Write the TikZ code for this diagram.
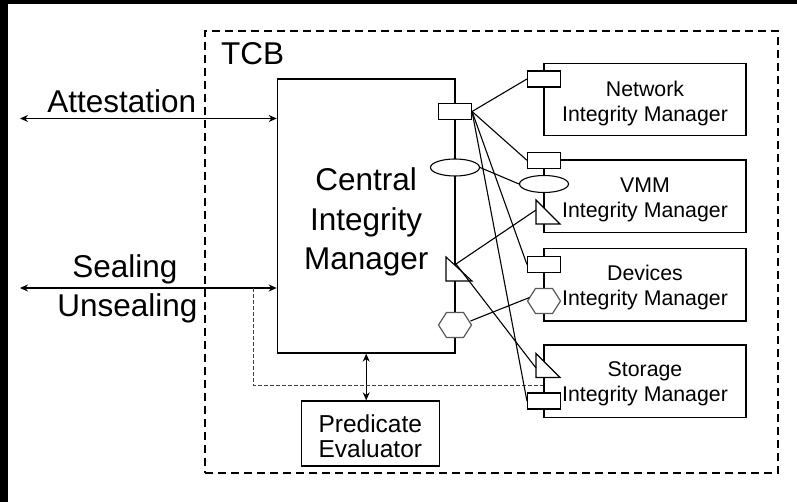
\documentclass[tikz,border=0pt]{standalone}
\usepackage{fontspec}
\setmainfont{Liberation Sans}
\usetikzlibrary{arrows.meta,shapes.geometric}

\tikzset{
  box/.style={draw, line width=1.3pt, fill=white, inner sep=0pt},
  tcbframe/.style={draw, line width=2.4pt, dash pattern=on 8pt off 5pt, inner sep=0pt},
  wire/.style={line width=1.1pt},
  duplex/.style={line width=1.1pt, {Stealth[length=8pt,width=7pt]}-{Stealth[length=8pt,width=7pt]}},
  feedback/.style={line width=0.9pt, draw=black!75, dash pattern=on 4pt off 2pt},
  portrect/.style={draw, fill=white, line width=1.1pt, rectangle, minimum width=33pt, minimum height=16pt, inner sep=0pt},
  portoval/.style={draw, fill=white, line width=1.1pt, ellipse, minimum width=49pt, minimum height=17pt, inner sep=0pt},
  porttri/.style={draw, fill=white, line width=1.1pt},
  porthex/.style={draw=black!65, fill=white, line width=1.2pt},
  bigtxt/.style={font=\fontsize{31.5}{39.5}\selectfont, inner sep=0pt, align=center},
  midtxt/.style={font=\fontsize{24.5}{25}\selectfont, inner sep=0pt, align=center},
  smalltxt/.style={font=\fontsize{21.3}{25}\selectfont, inner sep=0pt, align=center},
}

\begin{document}
\begin{tikzpicture}[x=1pt,y=-1pt]
% canvas with its dark top and left bands
\useasboundingbox (0,0) rectangle (797,502);
\fill[white] (0,0) rectangle (797,502);
\fill[black] (0,0) rectangle (797,4);
\fill[black] (0,0) rectangle (7.5,502);

% trusted computing base
\node[tcbframe, minimum width=573pt, minimum height=442pt] (tcb) at (491.5,252) {};

% managers and evaluator
\node[box, minimum width=177.7pt, minimum height=274pt] (cim) at (366.2,216) {};
\node[box, minimum width=202pt, minimum height=72.5pt] (net) at (645,99.5) {};
\node[box, minimum width=202pt, minimum height=72.5pt] (vmm) at (645,196.2) {};
\node[box, minimum width=202pt, minimum height=72.5pt] (dev) at (645,284.7) {};
\node[box, minimum width=202pt, minimum height=72.5pt] (sto) at (645,381.2) {};
\node[box, minimum width=137.6pt, minimum height=65pt] (pe) at (370.5,433.5) {};

% external interfaces
\coordinate (attEnd) at (20,118.5);
\coordinate (sealEnd) at (20,288);
\draw[duplex] (attEnd) -- (attEnd -| cim.west);
\draw[duplex] (sealEnd) -- (sealEnd -| cim.west);
\draw[duplex] (cim.south) -- (cim.south |- pe.north);

% sealing path to the storage manager
\coordinate (tap) at (253,288);
\coordinate (bend) at (253,385);
\draw[feedback] (tap) -- (bend) -- (bend -| sto.west);

% ports
\node[portrect] (cimP1) at (455,111.5) {};
\node[portoval] (cimP2) at (455,167.5) {};
\node[portrect] (netP1) at (544,79) {};
\node[portrect] (vmmP1) at (544,160.3) {};
\node[portoval] (vmmP2) at (544,184) {};
\node[portrect] (devP1) at (544,264.5) {};
\node[portrect] (stoP1) at (544,401) {};

\coordinate (cimT) at (446,257);
\coordinate (vmmT) at (536,200);
\coordinate (stoT) at (536,353.5);
\draw[porttri] (cimT) -- ++(0,24) -- ++(26,0) -- cycle;
\draw[porttri] (vmmT) -- ++(0,24) -- ++(24,0) -- cycle;
\draw[porttri] (stoT) -- ++(0,24) -- ++(24,0) -- cycle;

\coordinate (cimH) at (455,325);
\coordinate (devH) at (544,301);
\draw[porthex] (cimH) ++(-16.5,0) -- ++(8,-12.5) -- ++(17,0) -- ++(8,12.5) -- ++(-8,12.5) -- ++(-17,0) -- cycle;
\draw[porthex] (devH) ++(-16.5,0) -- ++(8,-12.5) -- ++(17,0) -- ++(8,12.5) -- ++(-8,12.5) -- ++(-17,0) -- cycle;

% port taps
\coordinate (cimTtap) at (456,264);
\coordinate (vmmTtap) at (536,210);
\coordinate (stoTtap) at (536,368);
\coordinate (cimHtap) at (470.5,321);
\coordinate (devHtap) at (529.5,297.5);

% connections between ports
\draw[wire] (cimP1.east) -- (netP1.west);
\draw[wire] (cimP1.east) -- (vmmP1.west);
\draw[wire] (cimP1.east) -- (devP1.west);
\draw[wire] (cimP1.east) -- (stoP1.west);
\draw[wire] (cimP2.east) -- (vmmP2.west);
\draw[wire] (cimTtap) -- (vmmTtap);
\draw[wire] (cimTtap) -- (stoTtap);
\draw[wire] (cimHtap) -- (devHtap);

% labels
\node[bigtxt, anchor=base west] (tcbL) at (221,65) {TCB};
\node[bigtxt, anchor=base] (attL) at (121.7,112.3) {Attestation};
\node[bigtxt, anchor=base] (sealL) at (125,277.3) {Sealing};
\node[bigtxt, anchor=base] (unsealL) at (127.5,316.7) {Unsealing};
\node[bigtxt] (cimL) at (366.2,222) {Central\\Integrity\\Manager};
\node[smalltxt] (netL) at (645,103.8) {Network\\Integrity Manager};
\node[smalltxt] (vmmL) at (645,200) {VMM\\Integrity Manager};
\node[smalltxt] (devL) at (645,287) {Devices\\Integrity Manager};
\node[smalltxt] (stoL) at (645,383.8) {Storage\\Integrity Manager};
\node[midtxt] (peL) at (370.3,436.7) {Predicate\\Evaluator};
\end{tikzpicture}
\end{document}
